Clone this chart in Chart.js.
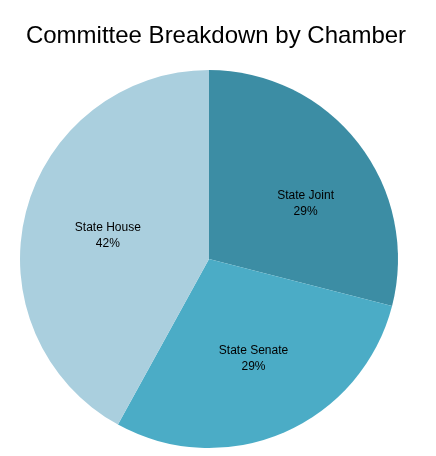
<!DOCTYPE html>
<html>
<head>
<meta charset="utf-8">
<script src="https://cdn.jsdelivr.net/npm/chart.js@4/dist/chart.umd.min.js"></script>
<style>
  html, body { margin: 0; padding: 0; background: #fff; }
  #wrap { width: 436px; height: 456px; }
</style>
</head>
<body>
<div id="wrap"><canvas id="chamberChart"></canvas></div>
<script>
const chambers = ["State Joint", "State Senate", "State House"];
const shares = [29, 29, 42];
const sliceColors = ["#3C8DA4", "#4BACC6", "#AACFDE"];

const TITLE = "Committee Breakdown by Chamber";
const FONT = "'Liberation Sans', Arial, sans-serif";

// title and slice labels are drawn by hand so they sit where the reference has them
const labelPlugin = {
    id: "labels",
    afterDraw(chart, args, opts) {
        const ctx = chart.ctx;
        ctx.save();
        ctx.fillStyle = "#000";
        ctx.textAlign = "center";
        ctx.textBaseline = "middle";
        ctx.font = "24px " + FONT;
        ctx.fillText(TITLE, 216, 36);

        ctx.font = "12px " + FONT;
        const meta = chart.getDatasetMeta(0);
        meta.data.forEach((arc, i) => {
            const p = arc.getProps(["x", "y", "startAngle", "endAngle", "outerRadius"]);
            const mid = (p.startAngle + p.endAngle) / 2;
            const r = p.outerRadius * 0.58;
            const nudge = opts.nudge[i] || [0, 0];
            const x = p.x + Math.cos(mid) * r + nudge[0];
            const y = p.y + Math.sin(mid) * r + nudge[1];
            ctx.fillText(chambers[i], x, y - 8);
            ctx.fillText(shares[i] + "%", x, y + 8);
        });
        ctx.restore();
    }
};

new Chart(document.getElementById("chamberChart").getContext("2d"), {
    type: "pie",
    data: {
        labels: chambers,
        datasets: [{
            data: shares,
            backgroundColor: sliceColors,
            borderWidth: 0
        }]
    },
    options: {
        responsive: true,
        maintainAspectRatio: false,
        animation: false,
        layout: { padding: { left: 20, right: 38, top: 70, bottom: 8 } },
        plugins: {
            legend: { display: false },
            title: { display: false },
            tooltip: { enabled: false },
            labels: { nudge: [[10, 12], [1, -1], [5, 4]] }
        }
    },
    plugins: [labelPlugin]
});
</script>
</body>
</html>
